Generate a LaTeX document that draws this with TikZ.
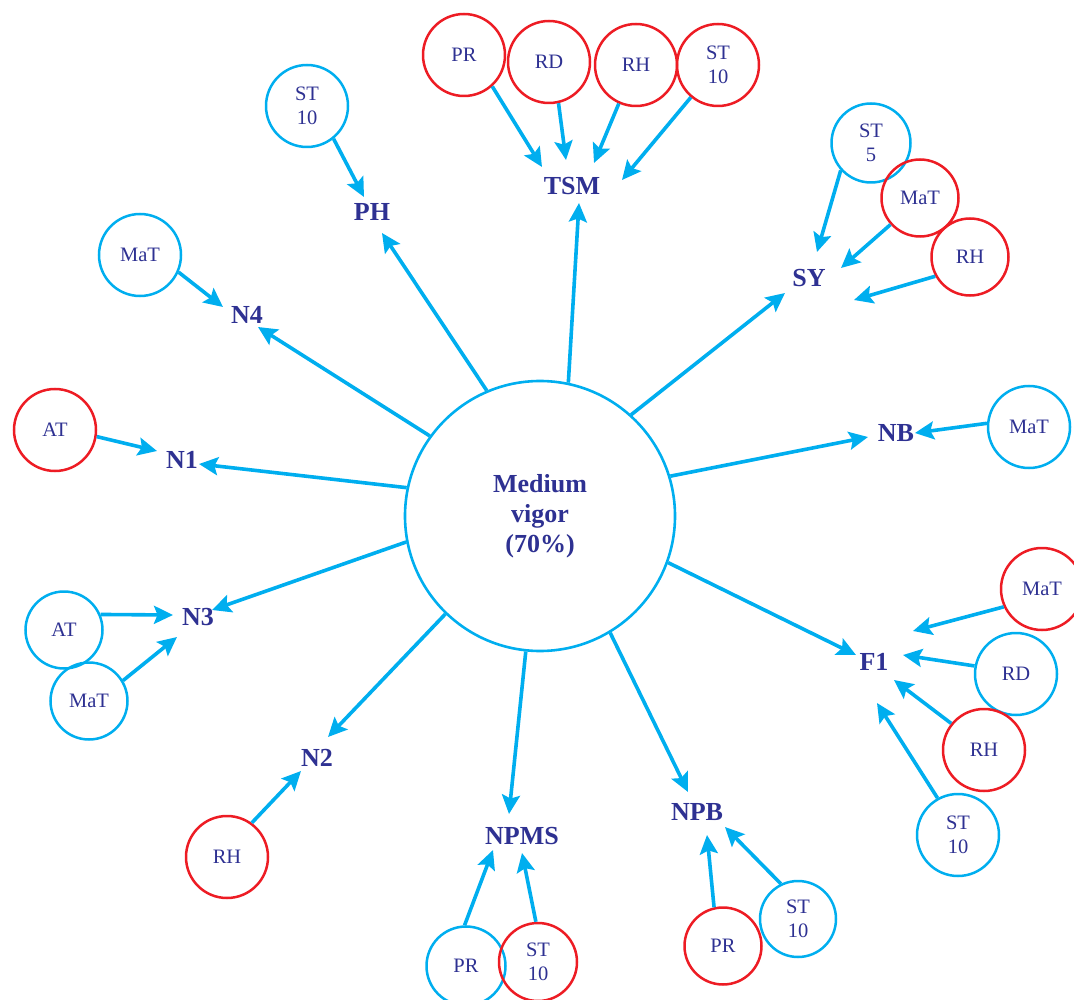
\documentclass[tikz,border=0pt]{standalone}
\usepackage{fontspec}
\setmainfont{Liberation Serif}
\usetikzlibrary{arrows.meta,calc}

\definecolor{cyanline}{HTML}{00AEEF}
\definecolor{redline}{HTML}{ED1C24}
\definecolor{navytext}{HTML}{2E3192}

\tikzset{
  factor/.style={circle, draw=#1, line width=2.5pt, minimum size=82pt, inner sep=0pt,
    text=navytext, align=center, font=\fontsize{20.5}{24}\selectfont},
  bluef/.style={factor=cyanline},
  redf/.style={factor=redline},
  trait/.style={text=navytext, inner sep=0pt, font=\bfseries\fontsize{26}{30}\selectfont},
  hub/.style={circle, draw=cyanline, line width=2.6pt, minimum size=270pt, inner sep=0pt,
    text=navytext, align=center, font=\bfseries\fontsize{26}{30}\selectfont},
  arr/.style={draw=cyanline, line width=3.6pt,
    -{Stealth[length=19pt, width=18pt, inset=3.5pt]}},
}

\begin{document}
\begin{tikzpicture}[x=1pt, y=-1pt]
\useasboundingbox (0,0) rectangle (1074,1000);

% central node
\node[hub] (c) at (540,516) {Medium\\vigor\\(70\%)};

% traits
\node[trait] (TSM)  at (572,186) {TSM};
\node[trait] (PH)   at (372,212) {PH};
\node[trait] (N4)   at (247,315) {N4};
\node[trait] (N1)   at (182,460) {N1};
\node[trait] (N3)   at (198,617) {N3};
\node[trait] (N2)   at (317,758) {N2};
\node[trait] (NPMS) at (522,836) {NPMS};
\node[trait] (NPB)  at (697,812) {NPB};
\node[trait] (F1)   at (874,662) {F1};
\node[trait] (NB)   at (896,433) {NB};
\node[trait] (SY)   at (809,278) {SY};

% factors
\node[redf]  (tPR)   at (464,55)  {PR};
\node[redf]  (tRD)   at (549,62)  {RD};
\node[redf]  (tRH)   at (636,65)  {RH};
\node[redf]  (tST)   at (718,65)  {ST\\10};
\node[bluef] (pST)   at (307,106) {ST\\10};
\node[bluef] (n4MaT) at (140,255) {MaT};
\node[redf]  (n1AT)  at (55,430)  {AT};
\node[bluef, minimum size=77pt] (n3AT)  at (64,630)  {AT};
\node[bluef, minimum size=77pt] (n3MaT) at (89,701)  {MaT};
\node[redf]  (n2RH)  at (227,857) {RH};
\node[bluef, minimum size=79pt] (mPR) at (466,966) {PR};
\node[redf, minimum size=78pt]  (mST) at (538,962) {ST\\10};
\node[redf, minimum size=77pt]  (bPR) at (723,946) {PR};
\node[bluef, minimum size=76pt] (bST) at (798,919) {ST\\10};
\node[redf]  (fMaT)  at (1042,589) {MaT};
\node[bluef] (fRD)   at (1016,674) {RD};
\node[redf]  (fRH)   at (984,750)  {RH};
\node[bluef] (fST)   at (958,835)  {ST\\10};
\node[bluef] (nbMaT) at (1029,427) {MaT};
\node[bluef, minimum size=79pt] (sST)  at (871,143) {ST\\5};
\node[redf, minimum size=77pt]  (sMaT) at (920,198) {MaT};
\node[redf, minimum size=77pt]  (sRH)  at (970,257) {RH};

% central node to traits
\draw[arr] (c.78)    -- ($(TSM)+(7,17)$);
\draw[arr] (c.113)   -- ($(PH)+(10,21)$);
\draw[arr] (c.144)   -- ($(N4)+(11,12)$);
\draw[arr] (c.168)   -- ($(N1)+(17,4)$);
\draw[arr] (c.191.5) -- ($(N3)+(14,-7)$);
\draw[arr] (c.226.6) -- ($(N2)+(11,-21)$);
\draw[arr] (c.264.5) -- ($(NPMS)+(-13,-22)$);
\draw[arr] (c.301)   -- ($(NPB)+(-9,-20)$);
\draw[arr] (c.340)   -- ($(F1)+(-18,-7)$);
\draw[arr] (c.17.6)  -- ($(NB)+(-28,4)$);
\draw[arr] (c.48)    -- ($(SY)+(-24,15)$);

% factors to traits
\draw[arr] (tPR.-48)   -- ($(TSM)+(-30,-19)$);
\draw[arr] (tRD.-77)   -- ($(TSM)+(-6,-26)$);
\draw[arr] (tRH.-114)  -- ($(TSM)+(22,-23)$);
\draw[arr] (tST.-130)  -- ($(TSM)+(50,-6)$);
\draw[arr] (pST.-51)   -- ($(PH)+(-8,-15)$);
\draw[arr] (n4MaT.-24) -- ($(N4)+(-24,-8)$);
\draw[arr] (n1AT.-9)   -- ($(N1)+(-25,-9)$);
\draw[arr] (n3AT.23.5) -- ($(N3)+(-25,-2)$);
\draw[arr] (n3MaT.31)  -- ($(N3)+(-21,20)$);
\draw[arr] (n2RH.54)   -- ($(N2)+(-16,13)$);
\draw[arr] (mPR.92)    -- ($(NPMS)+(-29,14)$);
\draw[arr] (mST.93)    -- ($(NPMS)+(0,17)$);
\draw[arr] (bPR.103)   -- ($(NPB)+(10,23)$);
\draw[arr] (bST.116.5) -- ($(NPB)+(28,15)$);
\draw[arr] (fMaT.205.6) -- ($(F1)+(39,-31)$);
\draw[arr] (fRD.169)   -- ($(F1)+(29,-7)$);
\draw[arr] (fRH.141)   -- ($(F1)+(20,18)$);
\draw[arr] (fST.119.4) -- ($(F1)+(3,41)$);
\draw[arr] (nbMaT.175) -- ($(NB)+(19,0)$);
\draw[arr] (sST.222)   -- ($(SY)+(8,-26)$);
\draw[arr] (sMaT.222.6) -- ($(SY)+(32,-10)$);
\draw[arr] (sRH.209)   -- ($(SY)+(45,22)$);
\end{tikzpicture}
\end{document}
